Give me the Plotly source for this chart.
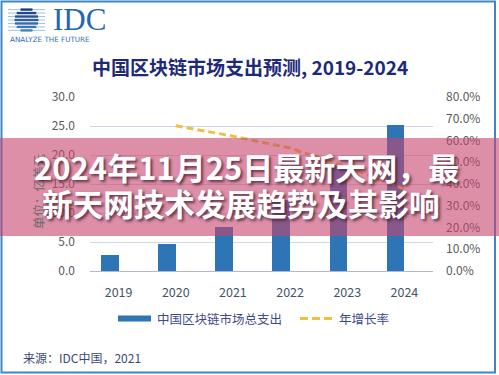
import plotly.graph_objects as go

# ---------------- data ----------------
years = [2019, 2020, 2021, 2022, 2023, 2024]
year_labels = ["2019", "2020", "2021", "2022", "2023", "2024"]
spending = [2.8, 4.7, 7.6, 12.3, 18.2, 25.1]          # 亿美元
growth = [None, 66.8, 62.0, 56.5, 47.8, 37.7]          # %
left_ticks = [0, 5, 10, 15, 20, 25, 30]
left_labels = ["0.0", "5.0", "10.0", "15.0", "20.0", "25.0", "30.0"]
right_ticks = [0, 10, 20, 30, 40, 50, 60, 70, 80]
right_labels = ["0.0%", "10.0%", "20.0%", "30.0%", "40.0%", "50.0%", "60.0%", "70.0%", "80.0%"]
title_text = "中国区块链市场支出预测, 2019-2024"
bar_name = "中国区块链市场总支出"
line_name = "年增长率"
y_title = "单位：亿美元"
source_text = "来源：IDC中国，2021"
banner_line1 = "2024年11月25日最新天网，最"
banner_line2 = "新天网技术发展趋势及其影响"

# ---------------- geometry helpers ----------------
W, H = 499, 375
L, R, T, B = 90, 433, 97, 271


def px(x):
    return (x - L) / (R - L)


def py(y):
    return (B - y) / (B - T)


FONT = "Noto Sans CJK SC, Noto Sans, sans-serif"
BAR_COLOR = "#2E75B6"
LINE_COLOR = "#EDC240"
GRID = "#D3D3EE"

fig = go.Figure()
fig.add_bar(
    x=years, y=spending, name=bar_name, width=0.31, offset=-0.31,
    marker=dict(color=BAR_COLOR, line=dict(width=0)), yaxis="y",
    showlegend=False,
)
fig.add_scatter(
    x=years, y=growth, name=line_name, mode="lines", yaxis="y2",
    line=dict(color=LINE_COLOR, width=3, dash="7px,4px"),
    showlegend=False,
)

shapes = []
annotations = []

# outer blue frame
shapes.append(dict(type="rect", xref="paper", yref="paper",
                   x0=px(1.5), x1=px(495), y0=py(1.5), y1=py(372.5),
                   line=dict(color="#3F86C6", width=2), fillcolor="rgba(0,0,0,0)",
                   layer="above"))

# IDC globe logo
cx, cy, r = 26.5, 20.0, 12.0
n = 7
for i in range(n):
    yy = cy - r + 1.6 + i * (2 * r - 3.2) / (n - 1)
    shapes.append(dict(type="line", xref="paper", yref="paper",
                       x0=px(8), x1=px(45), y0=py(yy), y1=py(yy),
                       line=dict(color="#9cc3e6", width=1), layer="above"))
    hw = max((r ** 2 - (yy - cy) ** 2), 0) ** 0.5
    t = i / (n - 1)
    col = "rgb(%d,%d,%d)" % (int(28 + t * 40), int(60 + t * 70), int(120 + t * 80))
    shapes.append(dict(type="line", xref="paper", yref="paper",
                       x0=px(cx - hw), x1=px(cx + hw), y0=py(yy), y1=py(yy),
                       line=dict(color=col, width=2.4), layer="above"))

annotations.append(dict(text="IDC", xref="paper", yref="paper", x=px(51), y=py(19.5),
                        xanchor="left", yanchor="middle", showarrow=False,
                        font=dict(family="Liberation Serif, DejaVu Serif, serif", size=31,
                                  color="#2467B0")))
annotations.append(dict(text="ANALYZE THE FUTURE", xref="paper", yref="paper",
                        x=px(8), y=py(40), xanchor="left", yanchor="middle", showarrow=False,
                        font=dict(family="DejaVu Sans, sans-serif", size=7.2, color="#2E6FB0")))

# title
annotations.append(dict(text=title_text, xref="paper", yref="paper", x=px(250), y=py(66),
                        xanchor="center", yanchor="middle", showarrow=False,
                        font=dict(family=FONT, size=19, color="#1E2A78", weight=700)))

# y-axis title
annotations.append(dict(text=y_title, xref="paper", yref="paper", x=px(38), y=py(192),
                        xanchor="center", yanchor="middle", showarrow=False, textangle=-90,
                        font=dict(family=FONT, size=12.5, color="#6B6B6B")))

# legend
shapes.append(dict(type="rect", xref="paper", yref="paper",
                   x0=px(118), x1=px(151), y0=py(315.5), y1=py(321.5),
                   fillcolor=BAR_COLOR, line=dict(width=0), layer="above"))
annotations.append(dict(text=bar_name, xref="paper", yref="paper", x=px(155), y=py(318.5),
                        xanchor="left", yanchor="middle", showarrow=False,
                        font=dict(family=FONT, size=12.5, color="#3C4A8C")))
shapes.append(dict(type="line", xref="paper", yref="paper",
                   x0=px(300), x1=px(332), y0=py(318.5), y1=py(318.5),
                   line=dict(color=LINE_COLOR, width=3, dash="8px,4px"), layer="above"))
annotations.append(dict(text=line_name, xref="paper", yref="paper", x=px(337), y=py(318.5),
                        xanchor="left", yanchor="middle", showarrow=False,
                        font=dict(family=FONT, size=12.5, color="#3C4A8C")))

# source
annotations.append(dict(text=source_text, xref="paper", yref="paper", x=px(21), y=py(357),
                        xanchor="left", yanchor="middle", showarrow=False,
                        font=dict(family=FONT, size=12, color="#3B4A7A")))

# banner overlay
shapes.append(dict(type="rect", xref="paper", yref="paper",
                   x0=px(0), x1=px(499), y0=py(138), y1=py(236),
                   fillcolor="rgba(198,68,110,0.6)", line=dict(width=0), layer="above"))
shadow = "2px 2px 3px rgba(60,20,40,0.75)"
annotations.append(dict(text=banner_line1, xref="paper", yref="paper", x=px(246), y=py(166),
                        xanchor="center", yanchor="middle", showarrow=False,
                        font=dict(family=FONT, size=31, color="white", weight=700,
                                  shadow=shadow)))
annotations.append(dict(text=banner_line2, xref="paper", yref="paper", x=px(241), y=py(203),
                        xanchor="center", yanchor="middle", showarrow=False,
                        font=dict(family=FONT, size=30.6, color="white", weight=700,
                                  shadow=shadow)))

fig.update_layout(
    width=W, height=H,
    margin=dict(l=L, r=W - R, t=T, b=H - B, autoexpand=False),
    paper_bgcolor="white", plot_bgcolor="white",
    font=dict(family=FONT),
    bargap=0,
    xaxis=dict(range=[2018.5, 2024.5], tickvals=years, ticktext=year_labels,
               showgrid=False, zeroline=False, showline=True, linecolor="#B4B4DC",
               linewidth=1, ticks="", ticklabelstandoff=10,
               tickfont=dict(size=12.5, color="#44546A")),
    yaxis=dict(range=[0, 30], tickvals=left_ticks, ticktext=left_labels,
               showgrid=True, gridcolor=GRID, gridwidth=1, zeroline=False,
               showline=False, ticks="", ticklabelstandoff=14,
               tickfont=dict(size=12, color="#595959")),
    yaxis2=dict(range=[0, 80], tickvals=right_ticks, ticktext=right_labels,
                overlaying="y", side="right", showgrid=False, zeroline=False,
                showline=False, ticks="", ticklabelstandoff=12,
                tickfont=dict(size=12, color="#595959")),
    shapes=shapes,
    annotations=annotations,
    showlegend=False,
)

fig.write_html("out.html", config={"displayModeBar": False},
               post_script="document.body.style.margin='0';document.body.style.overflow='hidden';")
